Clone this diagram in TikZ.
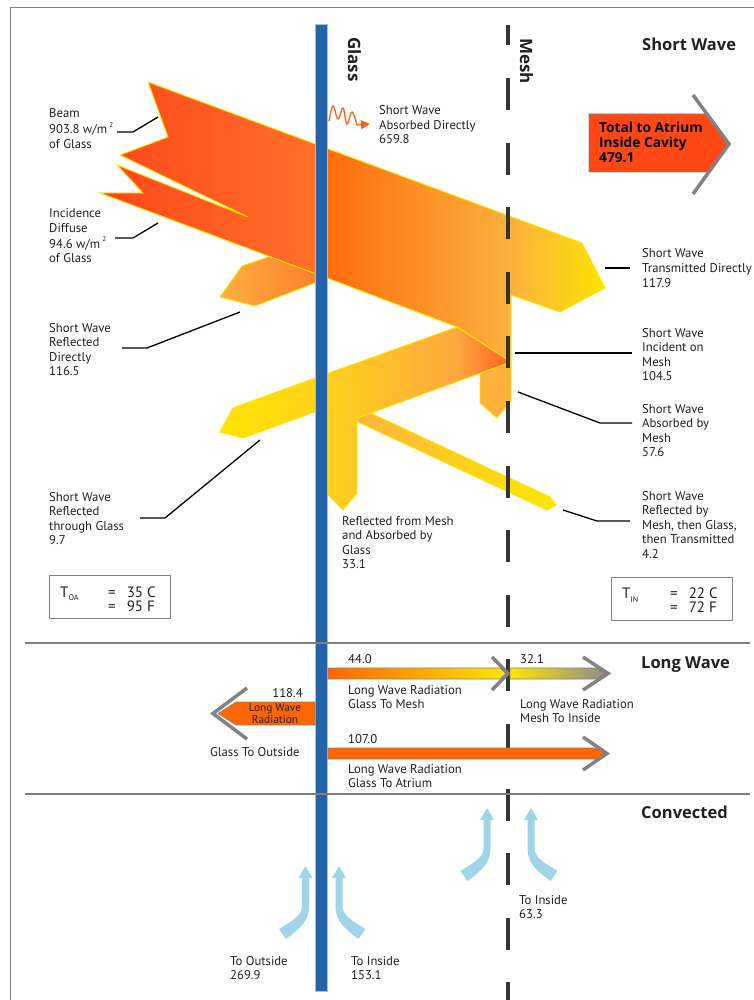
\documentclass[tikz,border=0pt]{standalone}
\usepackage{fontspec}
\setmainfont{PT Sans}
\newfontfamily\hfont{Open Sans}
\usetikzlibrary{arrows.meta}
\definecolor{txt}{RGB}{35,31,32}
\definecolor{glassblue}{RGB}{37,99,168}
\definecolor{glassedge}{RGB}{150,195,230}
\definecolor{meshgray}{RGB}{51,51,51}
\definecolor{linegray}{RGB}{128,128,128}
\definecolor{chevgray}{RGB}{130,130,130}
\definecolor{edgeyellow}{RGB}{255,228,0}
\definecolor{lwor}{RGB}{255,102,0}
\definecolor{lwyel}{RGB}{255,230,0}
\definecolor{lwgray}{RGB}{140,140,140}
\definecolor{totalred}{RGB}{255,72,20}
\definecolor{convblue}{RGB}{160,212,232}
\definecolor{squig}{RGB}{242,101,34}
\definecolor{mA}{RGB}{255,70,25}
\definecolor{mB}{RGB}{255,112,40}
\definecolor{mC}{RGB}{255,105,8}
\definecolor{mD}{RGB}{251,178,60}
\definecolor{mE}{RGB}{255,228,0}
\definecolor{rA}{RGB}{255,230,0}
\definecolor{rB}{RGB}{255,208,28}
\definecolor{rC}{RGB}{251,168,62}
\definecolor{rD}{RGB}{255,92,38}
\definecolor{sA}{RGB}{251,178,64}
\definecolor{sB}{RGB}{255,125,45}
\definecolor{absorb}{RGB}{252,178,58}
\newcommand{\ml}[1]{\begin{tabular}[t]{@{}l@{}}#1\end{tabular}}
\newcommand{\mc}[1]{\begin{tabular}[t]{@{}c@{}}#1\end{tabular}}
\newcommand{\tvals}[2]{\begin{tabular}[t]{@{}l@{\hspace{11pt}}l@{}}=&#1\\=&#2\end{tabular}}
\tikzset{
 lbl/.style={font=\fontsize{12.7}{14.5}\selectfont, anchor=base west, inner sep=0pt, text=txt},
 hdr/.style={font=\hfont\bfseries\fontsize{16.5}{18}\selectfont, anchor=base west, inner sep=0pt, text=txt},
 tfont/.style={font=\fontsize{15}{13}\selectfont, anchor=base west, inner sep=0pt, text=txt},
 leader/.style={draw=black, line width=1.3pt},
 beamedge/.style={draw=edgeyellow, line width=0.9pt, line join=miter},
 sepline/.style={draw=linegray, line width=1.8pt},
 chev/.style={draw=chevgray, line width=3.5pt, line join=miter},
 tbox/.style={draw=linegray, line width=1pt},
 lwbar/.style={draw=linegray, line width=0.6pt},
 meshline/.style={draw=meshgray, line width=4pt},
}
\newcommand{\convarrow}[3]{%
 \fill[convblue, shift={(#1,#2)}, xscale=#3]
  (0,0) -- (7,12) -- (3.5,12) -- (3.5,40) .. controls (3.5,55) and (-5,62) .. (-19.5,73)
  -- (-26.5,63) .. controls (-14,55) and (-3.5,50) .. (-3.5,40) -- (-3.5,12) -- (-7,12) -- cycle;}
\def\mainbeam{(148,82) -- (168,137) -- (120,155) -- (248,217) -- (117,165) -- (143,193) -- (100,193) -- (327,278) -- (457,327) -- (511,362) -- (511,295) -- (560,312) -- (605,288) -- (582,243) -- cycle}
\def\reflband{(511,362) -- (457,327) -- (315,378) -- (233,408) -- (220,432) -- (243,438) -- (328,407) -- (328,495) -- (343,510) -- (357,493) -- (357,418) -- cycle}
\def\refldir{(320,239) -- (242,266) -- (220,297) -- (255,306) -- (320,281) -- cycle}
\def\thinband{(345,401) -- (550,497) -- (556,505) -- (547,510) -- (345,416) -- cycle}
\begin{document}
\begin{tikzpicture}[x=1pt,y=-1pt]
\useasboundingbox (0,0) rectangle (754,1000);
\fill[white] (0,0) rectangle (754,1000);
% frame
\draw[linegray, line width=1pt] (10,1000) -- (10,8) -- (754,8);

% short wave reflected directly
\begin{scope}
 \clip \refldir;
 \shade[left color=sA, right color=sB] (215,230) rectangle (322,310);
\end{scope}
\draw[beamedge] \refldir;

% thin band (reflected by mesh then glass then transmitted)
\begin{scope}
 \clip \thinband;
 \shade[left color=sA, right color=rA] (340,395) rectangle (558,515);
\end{scope}
\draw[beamedge] \thinband;

% absorbed by mesh
\fill[absorb] (480,365) -- (480,403) -- (497,418) -- (511,401) -- (511,362) -- cycle;
\draw[beamedge] (480,372) -- (480,403) -- (497,418) -- (511,401) -- (511,362);

% main beam
\begin{scope}
 \clip \mainbeam;
 \shade[left color=mA, right color=mB] (95,70) rectangle (316.5,380);
 \shade[left color=mC, right color=mD] (316,70) rectangle (512.5,380);
 \shade[left color=mD, right color=mE] (512,70) rectangle (610,380);
\end{scope}
\draw[beamedge] \mainbeam;

% reflected band from mesh
\begin{scope}
 \clip \reflband;
 \shade[left color=rA, right color=rB] (215,320) rectangle (327.5,520);
 \shade[left color=rB, right color=rC] (327,320) rectangle (457.5,520);
 \shade[left color=rC, right color=rD] (457,320) rectangle (513,520);
\end{scope}
\draw[beamedge] \reflband;

% squiggle
\draw[squig, line width=1.3pt, -{Triangle[length=9pt,width=9pt]}] plot[smooth, tension=0.7] coordinates {(329,121) (333,106) (338,119) (343,108) (347,124) (352,112) (357,125)} -- (370,124);

% glass
\draw[glassedge, fill=glassblue, line width=1pt] (315,25) rectangle (327,991);
% mesh
\draw[meshline] (508,25) -- (508,45);
\draw[meshline, dash pattern=on 32pt off 32.6pt] (508,78) -- (508,1000);

% separators
\draw[sepline] (25,643) -- (750,643);
\draw[sepline] (25,794) -- (750,794);

% rotated labels
\node[hdr, rotate=-90, font=\hfont\bfseries\fontsize{17}{18}\selectfont] (glasslbl) at (348,37) {Glass};
\node[hdr, rotate=-90, font=\hfont\bfseries\fontsize{17}{18}\selectfont] (meshlbl) at (520,38) {Mesh};

% headers
\node[hdr] (swh) at (642,51) {Short Wave};
\node[hdr] (lwh) at (641,668) {Long Wave};
\node[hdr] (cvh) at (641,818) {Convected};

% total to atrium
\draw[fill=totalred, draw=linegray, line width=0.6pt] (589,114) -- (708,114) -- (728,144) -- (708,172) -- (589,172) -- cycle;
\draw[chev] (693,95) -- (729,144) -- (693,194);
\node[font=\hfont\bfseries\fontsize{13.7}{14.5}\selectfont, anchor=base west, inner sep=0pt, text=black] (totlbl) at (599,133) {\ml{Total to Atrium\\Inside Cavity\\479.1}};

% short wave labels
\node[lbl] (beamlbl) at (49,118) {\ml{Beam\\903.8 w/m\,\raisebox{0.5em}{\scriptsize 2}\\of Glass}};
\node[lbl] (difflbl) at (49,218) {\ml{Incidence\\Diffuse\\94.6 w/m\,\raisebox{0.5em}{\scriptsize 2}\\of Glass}};
\node[lbl] (rdlbl) at (49,332) {\ml{Short Wave\\Reflected\\Directly\\116.5}};
\node[lbl] (rtlbl) at (49,501) {\ml{Short Wave\\Reflected\\through Glass\\9.7}};
\node[lbl] (adlbl) at (379,115) {\ml{Short Wave\\Absorbed Directly\\659.8}};
\node[lbl] (trlbl) at (642,258) {\ml{Short Wave\\Transmitted Directly\\117.9}};
\node[lbl] (inlbl) at (642,337) {\ml{Short Wave\\Incident on\\Mesh\\104.5}};
\node[lbl] (amlbl) at (642,413) {\ml{Short Wave\\Absorbed by\\Mesh\\57.6}};
\node[lbl] (rmlbl) at (642,500) {\ml{Short Wave\\Reflected by\\Mesh, then Glass,\\then Transmitted\\4.2}};
\node[lbl] (rglbl) at (342,525) {\ml{Reflected from Mesh\\and Absorbed by\\Glass\\33.1}};

% leaders
\coordinate (b1) at (117,132); \coordinate (b2) at (133,132); \coordinate (b3) at (158,117);
\draw[leader] (b1) -- (b2) -- (b3);
\coordinate (d1) at (115,238); \coordinate (d2) at (133,238); \coordinate (d3) at (158,223);
\draw[leader] (d1) -- (d2) -- (d3);
\coordinate (r1) at (122,348); \coordinate (r2) at (147,348); \coordinate (r3) at (240,312);
\draw[leader] (r1) -- (r2) -- (r3);
\coordinate (t1) at (140,518); \coordinate (t2) at (165,518); \coordinate (t3) at (260,440);
\draw[leader] (t1) -- (t2) -- (t3);
\coordinate (tr1) at (605,268); \coordinate (tr2) at (630,268);
\draw[leader] (tr1) -- (tr2);
\coordinate (i1) at (515,353); \coordinate (i2) at (632,353);
\draw[leader] (i1) -- (i2);
\coordinate (a1) at (518,392); \coordinate (a2) at (600,423); \coordinate (a3) at (632,423);
\draw[leader] (a1) -- (a2) -- (a3);
\coordinate (m1) at (563,510); \coordinate (m2) at (597,521); \coordinate (m3) at (630,521);
\draw[leader] (m1) -- (m2) -- (m3);

% temperature boxes
\draw[tbox] (49,575) rectangle (170,618);
\node[tfont] (toaT) at (60,597) {T\raisebox{-3pt}{\fontsize{8}{8}\selectfont OA}};
\node[tfont] (toaV) at (108,597) {\tvals{35 C}{95 F}};
\draw[tbox] (611,577) rectangle (732,620);
\node[tfont] (tinT) at (622,598) {T\raisebox{-4pt}{\fontsize{8}{8}\selectfont IN}};
\node[tfont] (tinV) at (670,598) {\tvals{22 C}{72 F}};

% long wave arrows
\draw[lwbar, left color=lwor, right color=lwyel] (328,668) -- (500,668) -- (506,673.5) -- (500,679) -- (328,679) -- cycle;
\draw[chev] (492,657) -- (508,673.5) -- (492,690);
\draw[lwbar, left color=lwyel, right color=lwgray] (510,668) -- (600,668) -- (606,673.5) -- (600,679) -- (510,679) -- cycle;
\draw[chev] (583,657) -- (608,673.5) -- (583,690);
\draw[lwbar, fill=lwor] (328,748) -- (600,748) -- (605,753.5) -- (600,759) -- (328,759) -- cycle;
\draw[chev] (583,737) -- (607,753.5) -- (583,770);
\draw[lwbar, fill=lwor] (315,702) -- (236,702) -- (218,713.5) -- (236,725) -- (315,725) -- cycle;
\draw[chev] (247,688) -- (213,713.5) -- (247,739);

\node[lbl] (n44) at (348,663) {44.0};
\node[lbl] (lgm) at (348,694) {\ml{Long Wave Radiation\\Glass To Mesh}};
\node[lbl] (n321) at (520,663) {32.1};
\node[lbl] (lmi) at (520,708) {\ml{Long Wave Radiation\\Mesh To Inside}};
\node[lbl] (n107) at (348,743) {107.0};
\node[lbl] (lga) at (348,773) {\ml{Long Wave Radiation\\Glass To Atrium}};
\node[lbl, anchor=base east] (n1184) at (303,697) {118.4};
\node[lbl] (lgo) at (210,756) {Glass To Outside};
\node[font=\fontsize{11.3}{12}\selectfont, anchor=base, inner sep=0pt, text=txt] (lwr) at (275,711.5) {\mc{Long Wave\\Radiation}};

% convection
\convarrow{305.5}{866}{1}
\convarrow{339}{866}{-1}
\convarrow{487}{808}{1}
\convarrow{531}{808}{-1}
\node[lbl] (tout) at (230,965) {\ml{To Outside\\269.9}};
\node[lbl] (tin1) at (351,965) {\ml{To Inside\\153.1}};
\node[lbl] (tin2) at (519,904) {\ml{To Inside\\63.3}};
\end{tikzpicture}
\end{document}
